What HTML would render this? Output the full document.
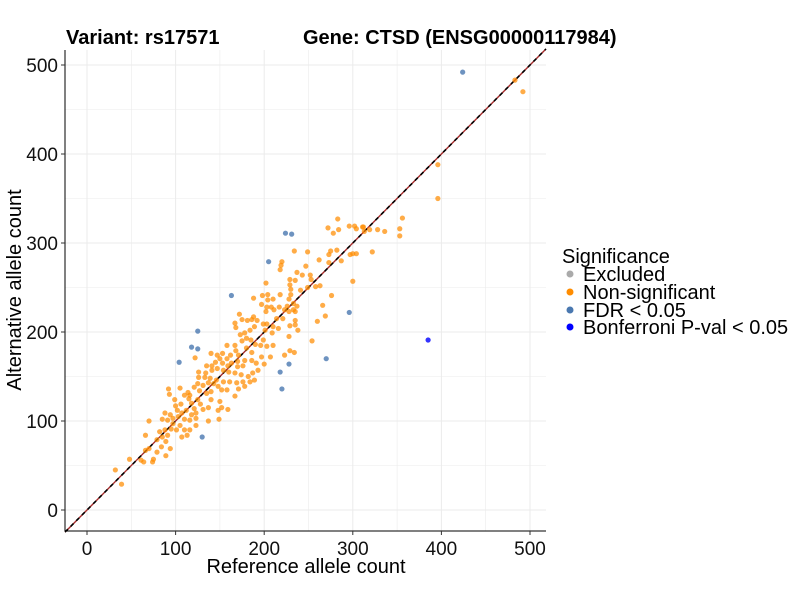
<!DOCTYPE html>
<html><head><meta charset="utf-8"><style>
body{margin:0;background:#fff;}
svg text{font-family:"Liberation Sans",Arial,sans-serif;}
</style></head><body>
<svg id="chart" width="800" height="600" xmlns="http://www.w3.org/2000/svg">
<rect width="800" height="600" fill="#fff"/>
<g id="grid"></g>
<g id="diag"></g>
<g id="pts"></g>
<g id="axes"></g>
<text x="66" y="44" font-size="20" font-weight="bold">Variant: rs17571</text>
<text x="303" y="44" font-size="20" font-weight="bold">Gene: CTSD (ENSG00000117984)</text>
<text x="306" y="573" font-size="20" text-anchor="middle">Reference allele count</text>
<text transform="translate(21,290) rotate(-90)" font-size="20" text-anchor="middle">Alternative allele count</text>
<g>
<text x="562" y="263" font-size="20">Significance</text>
<circle cx="570" cy="274" r="3.5" fill="#aaaaaa"/>
<text x="583" y="281" font-size="20">Excluded</text>
<circle cx="570" cy="292" r="3.5" fill="#ff8c00"/>
<text x="583" y="299" font-size="20">Non-significant</text>
<circle cx="570" cy="310" r="3.5" fill="#4a78b0"/>
<text x="583" y="317" font-size="20">FDR &lt; 0.05</text>
<circle cx="570" cy="327" r="3.5" fill="#0000ff"/>
<text x="583" y="334" font-size="20">Bonferroni P-val &lt; 0.05</text>
</g>
</svg>
<script>
const xTicks=[0,100,200,300,400,500];
const yTicks=[0,100,200,300,400,500];
const nonsigRef=[283,272,284,278,296,302,311,313,234,249,275,282,273,287,297,300,304,322,273,262,220,218,219,247,237,243,252,229,235,253,300,202,229,263,249,258,241,230,204,198,218,210,204,188,276,230,228,197,203,208,211,217,226,233,237,266,223,228,233,235,202,172,188,269,260,221,214,235,229,238,235,216,210,203,201,199,192,186,181,175,167,168,189,184,178,209,228,254,199,196,190,210,203,185,180,173,175,167,158,168,171,180,186,229,234,223,207,197,200,191,186,178,170,162,153,147,140,150,158,141,135,145,153,159,163,122,170,176,193,187,182,174,167,160,154,147,141,134,126,126,133,139,146,154,161,169,176,184,189,178,171,167,158,152,148,143,137,131,125,121,127,135,140,150,140,116,110,105,92,93,99,114,115,118,125,128,121,123,131,137,148,152,159,149,137,123,116,110,103,97,94,88,85,91,100,106,112,107,102,118,97,105,110,116,123,101,95,88,82,91,85,79,89,70,66,107,113,94,84,70,66,79,75,74,89,61,64,48,32,39,483,492,396,396,356,353,353,319,336,304,312,328];
const nonsigAlt=[327,317,315,311,319,319,318,313,291,290,291,292,287,280,287,288,288,290,278,281,279,270,275,274,267,264,264,259,258,259,257,255,253,252,250,251,247,248,242,241,242,237,236,238,241,242,237,231,228,228,225,228,229,232,229,230,225,223,225,223,223,220,217,218,212,215,215,213,207,202,208,204,206,209,202,209,213,214,213,214,210,205,206,202,199,199,195,190,191,185,186,185,184,191,193,197,190,185,185,179,174,182,177,179,177,174,172,172,164,165,168,168,167,174,176,174,176,170,170,162,162,166,165,162,165,171,161,162,157,154,150,152,154,155,157,159,157,154,155,149,149,148,146,144,144,143,144,144,146,139,136,128,135,135,139,142,143,140,142,138,134,131,124,122,133,129,129,137,136,130,124,132,125,120,124,119,114,109,113,115,112,115,113,102,100,103,101,102,105,103,107,109,102,101,117,119,112,109,112,107,97,95,90,90,95,90,91,90,88,84,82,79,77,100,84,82,84,69,71,69,67,65,57,54,61,56,54,57,45,29,483,470,388,350,328,316,308,315,313,316,318,315];
const fdrRef=[424,224,231,205,163,125,118,125,104,130,218,228,220,270,296];
const fdrAlt=[492,311,310,279,241,201,183,181,166,82,155,164,136,170,222];
const bonfRef=[385];
const bonfAlt=[191];
</script>
<script>
const NS="http://www.w3.org/2000/svg";
const X0=65,X1=546,Y0=531,Y1=50;
function sx(v){return 87+v*0.886;}
function sy(v){return 510-v*0.89;}
function mk(tag,attrs,parent){const e=document.createElementNS(NS,tag);for(const k in attrs)e.setAttribute(k,attrs[k]);parent.appendChild(e);return e;}
const grid=document.getElementById('grid');
for(let v=0;v<=500;v+=50){
  let l=mk('line',{x1:sx(v),x2:sx(v),y1:Y1,y2:Y0,stroke:'#ebebeb','stroke-width':v%100?0.6:1},grid);
  
  
  let h=mk('line',{x1:X0,x2:X1,y1:sy(v),y2:sy(v),stroke:'#ebebeb','stroke-width':v%100?0.6:1},grid);
  
  
}
const diag=document.getElementById('diag');
const dA=-24.8,dB=518;
let rl=mk('line',{x1:sx(dA),y1:sy(dA),x2:sx(dB),y2:sy(dB),stroke:'#a52a2a','stroke-width':1.4},diag);


let bl=mk('line',{x1:sx(dA),y1:sy(dA),x2:sx(dB),y2:sy(dB),stroke:'#000','stroke-width':1.6,'stroke-dasharray':'4,4'},diag);


const pts=document.getElementById('pts');
nonsigRef.forEach((r,i)=>{
  let c=mk('circle',{cx:sx(r),cy:sy(nonsigAlt[i]),r:2.6,fill:'#ff8c00','fill-opacity':0.72},pts);
  
  
});
fdrRef.forEach((r,i)=>{
  let c=mk('circle',{cx:sx(r),cy:sy(fdrAlt[i]),r:2.6,fill:'#4a78b0','fill-opacity':0.8},pts);
  
  
});
bonfRef.forEach((r,i)=>{
  let c=mk('circle',{cx:sx(r),cy:sy(bonfAlt[i]),r:2.6,fill:'#0000ff','fill-opacity':0.8},pts);
  
  
});
const axes=document.getElementById('axes');
let ya=mk('line',{x1:X0,x2:X0,y1:Y1,y2:Y0,stroke:'#000','stroke-width':1},axes);


let xa=mk('line',{x1:X0,x2:X1,y1:Y0,y2:Y0,stroke:'#000','stroke-width':1},axes);


xTicks.forEach(v=>{
  let t=mk('line',{x1:sx(v),x2:sx(v),y1:Y0,y2:Y0+4,stroke:'#333'},axes);
  
  
  let l=mk('text',{x:sx(v),y:555,'font-size':19,'text-anchor':'middle',fill:'#111'},axes);
  l.textContent=v;
  
  
});
yTicks.forEach(v=>{
  let t=mk('line',{x1:X0-4,x2:X0,y1:sy(v),y2:sy(v),stroke:'#333'},axes);
  
  
  let l=mk('text',{x:58,y:sy(v)+7,'font-size':19,'text-anchor':'end',fill:'#111'},axes);
  l.textContent=v;
  
  
});
</script>
</body></html>
